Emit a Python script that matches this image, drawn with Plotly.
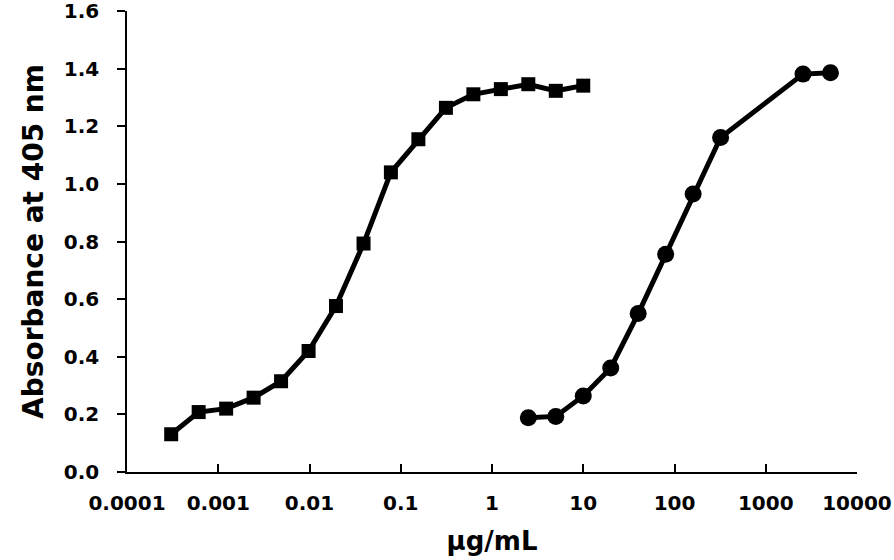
import plotly.graph_objects as go

# Series A (squares): two-fold dilutions, µg/mL
conc_a = [0.000305, 0.00061, 0.00122, 0.00244, 0.00488, 0.00977, 0.0195, 0.0391,
          0.078, 0.156, 0.3125, 0.625, 1.25, 2.5, 5, 10]
abs_a = [0.131, 0.208, 0.220, 0.258, 0.315, 0.420, 0.576, 0.793,
         1.040, 1.155, 1.264, 1.311, 1.329, 1.346, 1.323, 1.341]

# Series B (circles)
conc_b = [2.5, 5, 10, 20, 40, 80, 160, 320, 2560, 5120]
abs_b = [0.188, 0.193, 0.264, 0.361, 0.550, 0.756, 0.965, 1.161, 1.381, 1.386]

x_tickvals = [0.0001, 0.001, 0.01, 0.1, 1, 10, 100, 1000, 10000]
x_ticktext = ["0.0001", "0.001", "0.01", "0.1", "1", "10", "100", "1000", "10000"]
y_tickvals = [0.0, 0.2, 0.4, 0.6, 0.8, 1.0, 1.2, 1.4, 1.6]

FONT = "DejaVu Sans"

fig = go.Figure()
fig.add_trace(go.Scatter(
    x=conc_a, y=abs_a, mode="lines+markers",
    line=dict(color="black", width=5),
    marker=dict(symbol="square", size=14, color="black"),
    showlegend=False, cliponaxis=False,
))
fig.add_trace(go.Scatter(
    x=conc_b, y=abs_b, mode="lines+markers",
    line=dict(color="black", width=5),
    marker=dict(symbol="circle", size=17, color="black"),
    showlegend=False, cliponaxis=False,
))

fig.update_layout(
    width=894, height=560,
    margin=dict(l=127, r=37, t=11, b=88, autoexpand=False),
    paper_bgcolor="white", plot_bgcolor="white",
    font=dict(family=FONT, color="black"),
)
fig.update_xaxes(
    type="log", range=[-4, 4], automargin=False,
    tickvals=x_tickvals, ticktext=x_ticktext,
    ticks="inside", ticklen=8, tickwidth=1.5, tickcolor="black",
    showline=True, linecolor="black", linewidth=1.5,
    showgrid=False, zeroline=False,
    tickfont=dict(family=FONT, size=20, color="black", weight="bold"),
    ticklabelstandoff=12, ticklabeloverflow="allow",
    title=dict(text="µg/mL", font=dict(family=FONT, size=26, color="black", weight="bold"), standoff=18),
)
fig.update_yaxes(
    range=[0, 1.6001], tickvals=y_tickvals, tickformat=".1f", automargin=False,
    ticks="outside", ticklen=8, tickwidth=1.5, tickcolor="black",
    showline=True, linecolor="black", linewidth=1.5,
    showgrid=False, zeroline=False,
    tickfont=dict(family=FONT, size=20, color="black", weight="bold"),
    ticklabelstandoff=14, ticklabeloverflow="allow",
    title=dict(text="Absorbance at 405 nm", font=dict(family=FONT, size=28, color="black", weight="bold"), standoff=12),
)

# remove the browser's default 8px body margin so the figure fills the window
fig.write_html("out.html", config={"displayModeBar": False},
               post_script="document.body.style.margin='0';")
